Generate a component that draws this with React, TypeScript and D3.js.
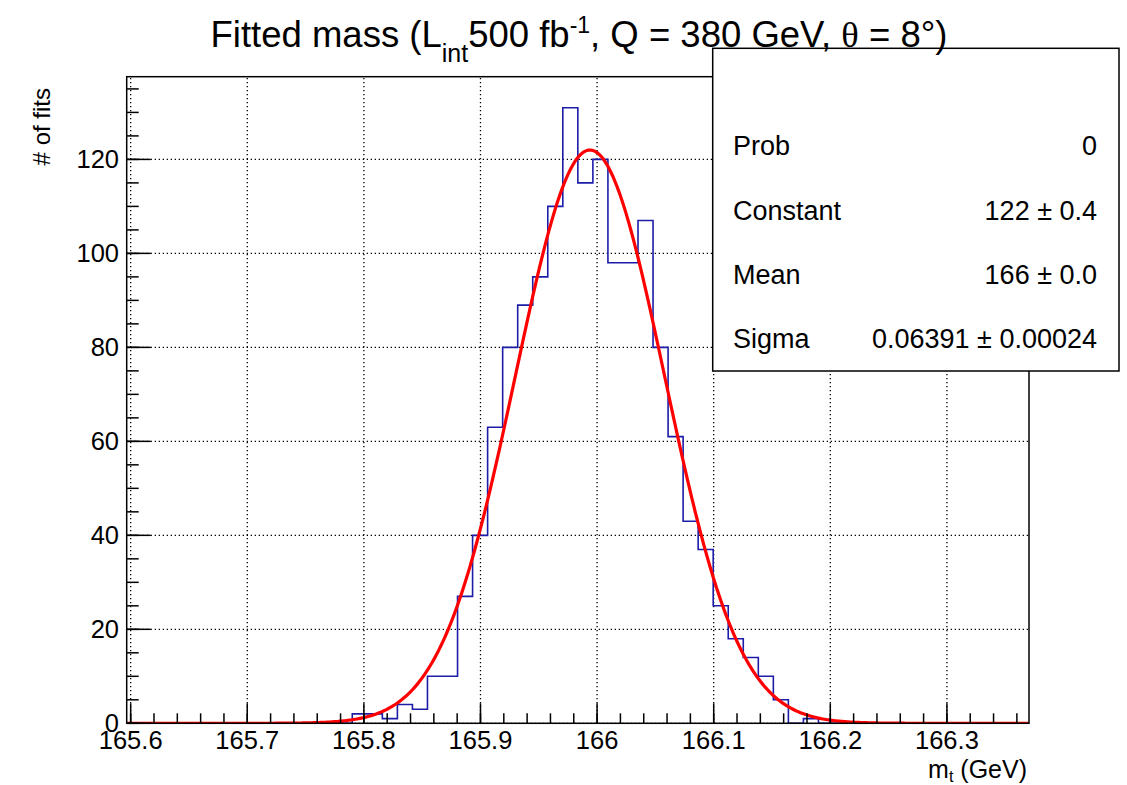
import * as d3 from "d3";

// histogram contents, 60 bins over the x range
const binCounts = [
  0, 0, 0, 0, 0, 0, 0, 0, 0, 0, 0, 0, 0, 0, 0,
  2, 2, 1, 4, 3, 10, 10, 27, 40, 63, 80, 89, 95, 110, 131,
  115, 120, 98, 98, 107, 80, 61, 43, 37, 25, 18, 14, 10, 5, 0,
  1, 0, 0, 0, 0, 0, 0, 0, 0, 0, 0, 0, 0, 0, 0,
];
const xMin = 165.5966;
const xMax = 166.3704;
const yMax = 137.6;

const xTicks = [165.6, 165.7, 165.8, 165.9, 166.0, 166.1, 166.2, 166.3];
const xTickLabels = ["165.6", "165.7", "165.8", "165.9", "166", "166.1", "166.2", "166.3"];
const yTicks = [0, 20, 40, 60, 80, 100, 120];

// gaussian fit parameters (from the stats box)
const fitConstant = 122;
const fitMean = 165.9939;
const fitSigma = 0.06391;

const statLabels = ["", "Prob", "Constant", "Mean", "Sigma"];
const statValues = ["", "0", "122 \u00b1 0.4", "166 \u00b1 0.0", "0.06391 \u00b1 0.00024"];

const W = 1127;
const H = 785;
const frame = { left: 126.7, right: 1029, top: 76.7, bottom: 723.3 };
const font = "'Liberation Sans', Arial, Helvetica, sans-serif";

export default function App() {
  const x = d3.scaleLinear().domain([xMin, xMax]).range([frame.left, frame.right]);
  const y = d3.scaleLinear().domain([0, yMax]).range([frame.bottom, frame.top]);

  const binW = (xMax - xMin) / binCounts.length;
  const pts: [number, number][] = [[xMin, 0]];
  binCounts.forEach((v, i) => {
    pts.push([xMin + i * binW, v]);
    pts.push([xMin + (i + 1) * binW, v]);
  });
  pts.push([xMax, 0]);
  const histPath = d3.line<[number, number]>().x((d) => x(d[0])).y((d) => y(d[1]))(pts);

  const fitPts = d3.range(0, 601).map((i) => {
    const xv = xMin + ((xMax - xMin) * i) / 600;
    return [xv, fitConstant * Math.exp(-0.5 * ((xv - fitMean) / fitSigma) ** 2)] as [number, number];
  });
  const fitPath = d3.line<[number, number]>().x((d) => x(d[0])).y((d) => y(d[1]))(fitPts);

  const xMinor = d3.range(0, 40).map((k) => 165.6 + k * 0.02).filter((v) => v < xMax);
  const yMinor = d3.range(0, 28).map((k) => k * 5).filter((v) => v < yMax);

  const box = { left: 712.7, right: 1119, top: 48.3, bottom: 371 };
  const rowY = [91, 155, 220, 284, 348];

  return (
    <div style={{ position: "absolute", left: 0, top: 0 }}>
      <svg width={W} height={H} style={{ display: "block", background: "#fff" }} fontFamily={font}>
        <defs>
          <clipPath id="frameClip">
            <rect x={frame.left} y={frame.top} width={frame.right - frame.left} height={frame.bottom - frame.top} />
          </clipPath>
        </defs>

        {/* grid */}
        <g stroke="#000" strokeWidth={1.3} strokeDasharray="1.3,2.7">
          {xTicks.map((t) => (
            <line key={"gx" + t} x1={x(t)} x2={x(t)} y1={frame.bottom} y2={frame.top} />
          ))}
          {yTicks.map((t) => (
            <line key={"gy" + t} x1={frame.left} x2={frame.right} y1={y(t)} y2={y(t)} />
          ))}
        </g>

        {/* histogram and fit */}
        <g clipPath="url(#frameClip)">
          <path d={histPath ?? ""} fill="none" stroke="#1c1ca8" strokeWidth={1.6} />
          <path d={fitPath ?? ""} fill="none" stroke="#ff0000" strokeWidth={3.2} />
        </g>

        {/* frame */}
        <rect x={frame.left} y={frame.top} width={frame.right - frame.left} height={frame.bottom - frame.top}
          fill="none" stroke="#000" strokeWidth={1.5} />

        {/* ticks */}
        <g stroke="#000" strokeWidth={1.5}>
          {xTicks.map((t) => (
            <line key={"tx" + t} x1={x(t)} x2={x(t)} y1={frame.bottom} y2={frame.bottom - 20} />
          ))}
          {xMinor.map((t) => (
            <line key={"mx" + t} x1={x(t)} x2={x(t)} y1={frame.bottom} y2={frame.bottom - 10} />
          ))}
          {yTicks.map((t) => (
            <line key={"ty" + t} x1={frame.left} x2={frame.left + 24} y1={y(t)} y2={y(t)} />
          ))}
          {yMinor.map((t) => (
            <line key={"my" + t} x1={frame.left} x2={frame.left + 12} y1={y(t)} y2={y(t)} />
          ))}
        </g>

        {/* tick labels */}
        <g fontSize={25.5} fill="#000">
          {xTicks.map((t, i) => (
            <text key={"lx" + t} x={x(t)} y={749} textAnchor="middle">{xTickLabels[i]}</text>
          ))}
          {yTicks.map((t) => (
            <text key={"ly" + t} x={119} y={y(t)} dy="0.35em" textAnchor="end">{t}</text>
          ))}
        </g>

        {/* axis titles */}
        <text x={1027} y={778} textAnchor="end" fontSize={25}>
          m<tspan fontSize={16} dy={4}>t</tspan><tspan dy={-4}> (GeV)</tspan>
        </text>
        <text transform="translate(50,88) rotate(-90)" textAnchor="end" fontSize={24}># of fits</text>

        {/* stats box */}
        <rect x={box.left} y={box.top} width={box.right - box.left} height={box.bottom - box.top}
          fill="#fff" stroke="#000" strokeWidth={1.5} />
        <g fontSize={27}>
          {statLabels.map((s, i) => (
            <text key={"sl" + i} x={733} y={rowY[i]}>{s}</text>
          ))}
          {statValues.map((s, i) => (
            <text key={"sv" + i} x={1097} y={rowY[i]} textAnchor="end">{s}</text>
          ))}
        </g>

        {/* title */}
        <text x={579} y={47} fontSize={36.5} textAnchor="middle">
          Fitted mass (L<tspan fontSize={25} dy={15}>int</tspan>
          <tspan dy={-15}>500 fb</tspan>
          <tspan fontSize={23} dy={-14}>-1</tspan>
          <tspan dy={14}>, Q = 380 GeV, </tspan>
          <tspan fontFamily="'Liberation Serif', serif">{"\u03b8"}</tspan>
          <tspan> = 8°)</tspan>
        </text>
      </svg>
    </div>
  );
}
